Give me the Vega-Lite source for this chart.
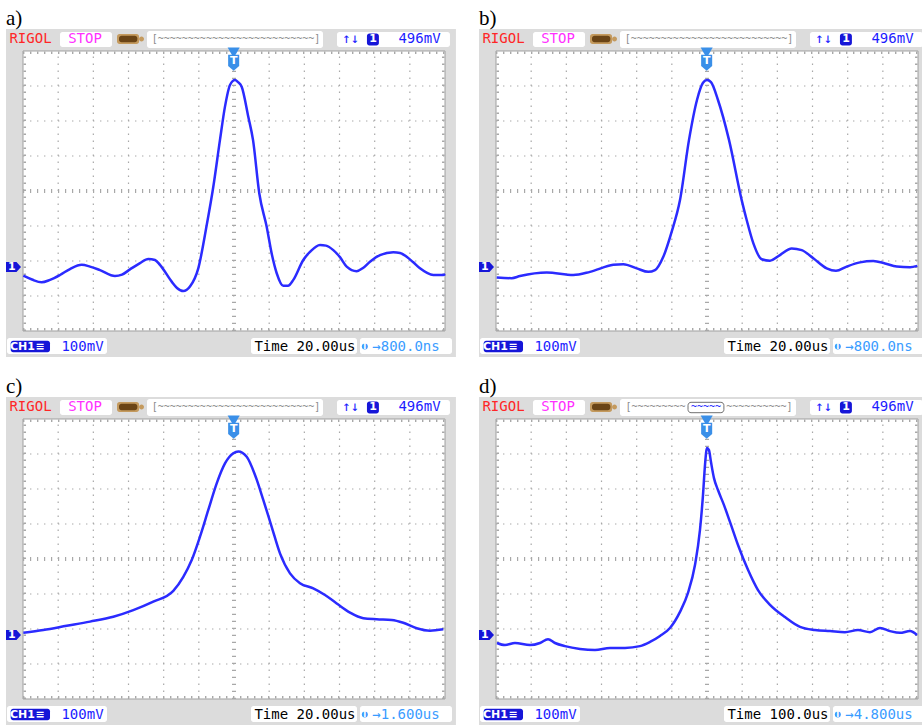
{
"$schema": "https://vega.github.io/schema/vega-lite/v6.json",
"padding": 0,
"background": "white",
"config": {"view": {"stroke": null}},
"datasets": {
"rects": [
{"x0":1.052,"x1":2.531,"y0":8.114,"y1":8.543,"k":"w"},
{"x0":3.526,"x1":8.53,"y0":8.086,"y1":8.571,"k":"w"},
{"x0":8.928,"x1":12.14,"y0":8.114,"y1":8.543,"k":"w"},
{"x0":-0.455,"x1":2.388,"y0":-0.657,"y1":-0.2,"k":"w"},
{"x0":6.483,"x1":9.497,"y0":-0.657,"y1":-0.2,"k":"w"},
{"x0":9.582,"x1":12.198,"y0":-0.657,"y1":-0.2,"k":"w"},
{"x0":2.673,"x1":3.3,"y0":8.2,"y1":8.486,"k":"tan"},
{"x0":2.73,"x1":3.25,"y0":8.25,"y1":8.436,"k":"bat"},
{"x0":3.3,"x1":3.44,"y0":8.271,"y1":8.414,"k":"tan"},
{"x0":9.78,"x1":10.12,"y0":8.157,"y1":8.5,"k":"blu"},
{"x0":-0.35,"x1":0.768,"y0":-0.609,"y1":-0.277,"k":"blu"}
],
"gx": [{"v":1},{"v":2},{"v":3},{"v":4},{"v":5},{"v":7},{"v":8},{"v":9},{"v":10},{"v":11}],
"gy": [{"v":1},{"v":2},{"v":3},{"v":5},{"v":6},{"v":7}],
"tk": [{"x0":6,"x1":6,"y0":0,"y1":8},{"x0":0,"x1":12,"y0":4,"y1":4}],
"ek": [{"x0":0.05,"x1":0.05,"y0":0,"y1":8},{"x0":11.95,"x1":11.95,"y0":0,"y1":8},{"x0":0,"x1":12,"y0":7.95,"y1":7.95},{"x0":0,"x1":12,"y0":0.05,"y1":0.05}],
"mk": [{"x":5.99,"y":7.661,"m":"trig"},{"x":5.99,"y":7.95,"m":"tri"},{"x":9.72,"y":-0.443,"m":"tc"}],
"mt": [{"x":5.99,"y":7.70,"t":"T"},{"x":-0.32,"y":1.83,"t":"1"},{"x":-0.014,"y":-0.443,"t":"CH1"},{"x":0.483,"y":-0.443,"t":"≡"},{"x":9.952,"y":8.33,"t":"1"}],
"hd": [
{"x":0.213,"y":8.33,"t":"RIGOL","k":"red"},
{"x":1.763,"y":8.33,"t":"STOP","k":"mag"},
{"x":9.312,"y":8.33,"t":"↑↓","k":"blue"},
{"x":11.274,"y":8.33,"t":"496mV","k":"blue"},
{"x":1.692,"y":-0.443,"t":"100mV","k":"blue"}
],
"fa": [{"x":8.018,"y":-0.443,"t":"Time 20.00us","k":"black"},{"x":10.89,"y":-0.443,"t":"→800.0ns","k":"lblue"}],
"fc": [{"x":8.018,"y":-0.443,"t":"Time 20.00us","k":"black"},{"x":10.89,"y":-0.443,"t":"→1.600us","k":"lblue"}],
"fd": [{"x":8.018,"y":-0.443,"t":"Time 100.0us","k":"black"},{"x":10.89,"y":-0.443,"t":"→4.800us","k":"lblue"}],
"wa": [{"x":0.01,"y":1.58},{"x":0.256,"y":1.47},{"x":0.53,"y":1.39},{"x":0.768,"y":1.46},{"x":1.052,"y":1.6},{"x":1.336,"y":1.77},{"x":1.669,"y":1.89},{"x":1.905,"y":1.84},{"x":2.189,"y":1.74},{"x":2.616,"y":1.57},{"x":2.815,"y":1.61},{"x":3.042,"y":1.76},{"x":3.327,"y":1.94},{"x":3.563,"y":2.06},{"x":3.753,"y":2.03},{"x":3.895,"y":1.89},{"x":4.228,"y":1.41},{"x":4.379,"y":1.23},{"x":4.558,"y":1.14},{"x":4.748,"y":1.27},{"x":4.984,"y":1.79},{"x":5.223,"y":3.02},{"x":5.411,"y":4.12},{"x":5.601,"y":5.46},{"x":5.743,"y":6.41},{"x":5.886,"y":7.03},{"x":6.028,"y":7.17},{"x":6.113,"y":7.11},{"x":6.218,"y":6.98},{"x":6.406,"y":6.12},{"x":6.54,"y":5.46},{"x":6.719,"y":3.93},{"x":6.929,"y":2.98},{"x":7.08,"y":2.17},{"x":7.214,"y":1.65},{"x":7.401,"y":1.29},{"x":7.535,"y":1.29},{"x":7.686,"y":1.46},{"x":7.97,"y":2.03},{"x":8.16,"y":2.26},{"x":8.445,"y":2.46},{"x":8.615,"y":2.44},{"x":8.823,"y":2.31},{"x":9.013,"y":2.11},{"x":9.204,"y":1.84},{"x":9.488,"y":1.71},{"x":9.667,"y":1.8},{"x":9.866,"y":1.98},{"x":10.151,"y":2.17},{"x":10.529,"y":2.25},{"x":10.72,"y":2.23},{"x":10.91,"y":2.12},{"x":11.089,"y":1.97},{"x":11.288,"y":1.79},{"x":11.666,"y":1.6},{"x":11.95,"y":1.6},{"x":12.0,"y":1.63}],
"wb": [{"x":0.02,"y":1.53},{"x":0.446,"y":1.51},{"x":0.682,"y":1.57},{"x":1.442,"y":1.67},{"x":2.198,"y":1.6},{"x":2.673,"y":1.69},{"x":3.335,"y":1.89},{"x":3.62,"y":1.91},{"x":4.0,"y":1.79},{"x":4.33,"y":1.69},{"x":4.521,"y":1.74},{"x":4.757,"y":2.12},{"x":4.996,"y":2.84},{"x":5.232,"y":3.74},{"x":5.488,"y":5.46},{"x":5.715,"y":6.6},{"x":5.886,"y":7.09},{"x":6.0,"y":7.17},{"x":6.113,"y":7.11},{"x":6.312,"y":6.6},{"x":6.625,"y":5.46},{"x":6.986,"y":3.74},{"x":7.128,"y":3.17},{"x":7.316,"y":2.51},{"x":7.555,"y":2.05},{"x":7.791,"y":2.01},{"x":8.075,"y":2.17},{"x":8.408,"y":2.36},{"x":8.692,"y":2.31},{"x":9.022,"y":2.08},{"x":9.403,"y":1.79},{"x":9.667,"y":1.72},{"x":9.971,"y":1.84},{"x":10.35,"y":1.96},{"x":10.728,"y":2.0},{"x":11.061,"y":1.93},{"x":11.394,"y":1.84},{"x":11.772,"y":1.82},{"x":11.98,"y":1.86}],
"wc": [{"x":0.01,"y":1.89},{"x":0.577,"y":1.97},{"x":1.243,"y":2.09},{"x":1.905,"y":2.21},{"x":2.568,"y":2.35},{"x":3.136,"y":2.54},{"x":3.705,"y":2.78},{"x":4.274,"y":3.09},{"x":4.558,"y":3.49},{"x":4.797,"y":3.97},{"x":5.033,"y":4.64},{"x":5.269,"y":5.4},{"x":5.508,"y":6.16},{"x":5.743,"y":6.73},{"x":5.98,"y":7.02},{"x":6.122,"y":7.07},{"x":6.361,"y":6.92},{"x":6.597,"y":6.4},{"x":6.832,"y":5.69},{"x":7.071,"y":4.92},{"x":7.307,"y":4.16},{"x":7.592,"y":3.59},{"x":7.876,"y":3.31},{"x":8.254,"y":3.16},{"x":8.587,"y":2.97},{"x":8.92,"y":2.73},{"x":9.298,"y":2.47},{"x":9.676,"y":2.31},{"x":10.057,"y":2.28},{"x":10.483,"y":2.26},{"x":10.813,"y":2.18},{"x":11.194,"y":2.02},{"x":11.572,"y":1.95},{"x":11.95,"y":1.99}],
"wd": [{"x":0.028,"y":1.6},{"x":0.256,"y":1.54},{"x":0.54,"y":1.6},{"x":0.967,"y":1.54},{"x":1.251,"y":1.6},{"x":1.479,"y":1.71},{"x":1.678,"y":1.6},{"x":1.962,"y":1.51},{"x":2.388,"y":1.43},{"x":2.815,"y":1.4},{"x":3.241,"y":1.46},{"x":3.668,"y":1.46},{"x":4.094,"y":1.51},{"x":4.379,"y":1.63},{"x":4.663,"y":1.8},{"x":4.947,"y":2.03},{"x":5.232,"y":2.49},{"x":5.459,"y":3.03},{"x":5.658,"y":3.83},{"x":5.8,"y":4.83},{"x":5.886,"y":5.83},{"x":5.943,"y":6.69},{"x":6.0,"y":7.17},{"x":6.056,"y":7.11},{"x":6.113,"y":6.77},{"x":6.198,"y":6.31},{"x":6.312,"y":5.97},{"x":6.483,"y":5.54},{"x":6.653,"y":5.06},{"x":6.881,"y":4.4},{"x":7.165,"y":3.69},{"x":7.45,"y":3.11},{"x":7.791,"y":2.69},{"x":8.217,"y":2.34},{"x":8.644,"y":2.06},{"x":9.07,"y":1.97},{"x":9.497,"y":1.94},{"x":9.923,"y":1.91},{"x":10.293,"y":1.97},{"x":10.634,"y":1.91},{"x":10.918,"y":2.03},{"x":11.203,"y":1.94},{"x":11.487,"y":1.89},{"x":11.772,"y":1.94},{"x":11.97,"y":1.83}]
},
"spacing": 11,
"vconcat": [
{"spacing": 17, "hconcat": [
{"width": 456, "height": 357,
"resolve": {"scale": {"color": "independent", "fill": "independent", "shape": "independent", "size": "independent"}},
"layer": [
{"data": {"values": [{}]}, "mark": {"type": "rect", "fill": "#dcdcdc", "clip": true},
 "encoding": {"x": {"datum": -0.483, "type": "quantitative", "scale": {"domain": [-0.654, 12.312], "nice": false, "zero": false}, "axis": null}, "x2": {"datum": 12.31}, "y": {"datum": -0.743, "type": "quantitative", "scale": {"domain": [-0.743, 9.457], "nice": false, "zero": false}, "axis": null}, "y2": {"datum": 8.629}}},
{"data": {"name": "rects"}, "mark": {"type": "rect", "clip": true, "cornerRadius": 2.5},
 "encoding": {"x": {"field": "x0", "type": "quantitative", "scale": {"domain": [-0.654, 12.312], "nice": false, "zero": false}, "axis": null}, "x2": {"field": "x1"}, "y": {"field": "y0", "type": "quantitative", "scale": {"domain": [-0.743, 9.457], "nice": false, "zero": false}, "axis": null}, "y2": {"field": "y1"}, "fill": {"field": "k", "type": "nominal", "scale": {"domain": ["w", "tan", "bat", "blu"], "range": ["#ffffff", "#c49a5e", "#6a4416", "#1616d8"]}, "legend": null}}},
{"data": {"values": [{}]}, "mark": {"type": "rect", "fill": "#ffffff", "stroke": "#a0a0a0", "strokeWidth": 1},
 "encoding": {"x": {"datum": 0, "type": "quantitative", "scale": {"domain": [-0.654, 12.312], "nice": false, "zero": false}, "axis": null}, "x2": {"datum": 12}, "y": {"datum": 0, "type": "quantitative", "scale": {"domain": [-0.743, 9.457], "nice": false, "zero": false}, "axis": null}, "y2": {"datum": 8}}},
{"data": {"name": "gx"}, "mark": {"type": "rule", "color": "#a8a8a8", "strokeDash": [1.4, 5.6], "strokeWidth": 1.2},
 "encoding": {"x": {"field": "v", "type": "quantitative", "scale": {"domain": [-0.654, 12.312], "nice": false, "zero": false}, "axis": null}, "y": {"datum": 0, "type": "quantitative", "scale": {"domain": [-0.743, 9.457], "nice": false, "zero": false}, "axis": null}, "y2": {"datum": 8}}},
{"data": {"name": "gy"}, "mark": {"type": "rule", "color": "#a8a8a8", "strokeDash": [1.4, 5.6], "strokeWidth": 1.2},
 "encoding": {"y": {"field": "v", "type": "quantitative", "scale": {"domain": [-0.743, 9.457], "nice": false, "zero": false}, "axis": null}, "x": {"datum": 0, "type": "quantitative", "scale": {"domain": [-0.654, 12.312], "nice": false, "zero": false}, "axis": null}, "x2": {"datum": 12}}},
{"data": {"name": "tk"}, "mark": {"type": "rule", "color": "#a8a8a8", "strokeDash": [1.2, 5.8], "strokeWidth": 4},
 "encoding": {"x": {"field": "x0", "type": "quantitative", "scale": {"domain": [-0.654, 12.312], "nice": false, "zero": false}, "axis": null}, "x2": {"field": "x1"}, "y": {"field": "y0", "type": "quantitative", "scale": {"domain": [-0.743, 9.457], "nice": false, "zero": false}, "axis": null}, "y2": {"field": "y1"}}},
{"data": {"name": "ek"}, "mark": {"type": "rule", "color": "#a8a8a8", "strokeDash": [1.4, 5.6], "strokeWidth": 2.5},
 "encoding": {"x": {"field": "x0", "type": "quantitative", "scale": {"domain": [-0.654, 12.312], "nice": false, "zero": false}, "axis": null}, "x2": {"field": "x1"}, "y": {"field": "y0", "type": "quantitative", "scale": {"domain": [-0.743, 9.457], "nice": false, "zero": false}, "axis": null}, "y2": {"field": "y1"}}},
{"data": {"name": "wa"}, "mark": {"type": "line", "color": "#2b2bff", "strokeWidth": 2.5, "interpolate": "monotone", "clip": true},
 "encoding": {"x": {"field": "x", "type": "quantitative", "scale": {"domain": [-0.654, 12.312], "nice": false, "zero": false}, "axis": null}, "y": {"field": "y", "type": "quantitative", "scale": {"domain": [-0.743, 9.457], "nice": false, "zero": false}, "axis": null}}},
{"data": {"values": [{}]}, "mark": {"type": "point", "filled": true, "opacity": 1, "shape": "M-1,-0.667L0.4,-0.667L1,0L0.4,0.667L-1,0.667Z", "size": 225, "color": "#1616d8"},
 "encoding": {"x": {"datum": -0.27, "type": "quantitative", "scale": {"domain": [-0.654, 12.312], "nice": false, "zero": false}, "axis": null}, "y": {"datum": 1.83, "type": "quantitative", "scale": {"domain": [-0.743, 9.457], "nice": false, "zero": false}, "axis": null}}},
{"data": {"name": "mk"}, "mark": {"type": "point", "filled": true, "opacity": 1},
 "encoding": {"x": {"field": "x", "type": "quantitative", "scale": {"domain": [-0.654, 12.312], "nice": false, "zero": false}, "axis": null}, "y": {"field": "y", "type": "quantitative", "scale": {"domain": [-0.743, 9.457], "nice": false, "zero": false}, "axis": null},
  "shape": {"field": "m", "type": "nominal", "scale": {"domain": ["trig", "tri", "tc"], "range": ["M-0.69,-1L0.69,-1L0.69,0.4L0,1L-0.69,0.4Z", "triangle-down", "circle"]}, "legend": null},
  "size": {"field": "m", "type": "ordinal", "scale": {"domain": ["trig", "tri", "tc"], "range": [256, 36, 110]}, "legend": null},
  "color": {"field": "m", "type": "nominal", "scale": {"domain": ["trig", "tri", "tc"], "range": ["#3a8fe8", "#3a8fe8", "#3a9cff"]}, "legend": null}}},
{"data": {"name": "mt"}, "mark": {"type": "text", "font": "DejaVu Sans", "fontWeight": "bold", "fontSize": 11, "color": "#ffffff", "baseline": "middle", "align": "center"},
 "encoding": {"x": {"field": "x", "type": "quantitative", "scale": {"domain": [-0.654, 12.312], "nice": false, "zero": false}, "axis": null}, "y": {"field": "y", "type": "quantitative", "scale": {"domain": [-0.743, 9.457], "nice": false, "zero": false}, "axis": null}, "text": {"field": "t"}}},
{"data": {"values": [{}]}, "mark": {"type": "text", "font": "DejaVu Sans", "fontWeight": "bold", "fontSize": 8, "color": "#ffffff", "baseline": "middle", "align": "center"},
 "encoding": {"x": {"datum": 9.72, "type": "quantitative", "scale": {"domain": [-0.654, 12.312], "nice": false, "zero": false}, "axis": null}, "y": {"datum": -0.443, "type": "quantitative", "scale": {"domain": [-0.743, 9.457], "nice": false, "zero": false}, "axis": null}, "text": {"value": "T"}}},
{"data": {"values": [{}]}, "mark": {"type": "text", "font": "DejaVu Sans Mono", "fontSize": 10, "color": "#8c8c8c", "baseline": "middle", "align": "center"},
 "encoding": {"x": {"datum": 6.056, "type": "quantitative", "scale": {"domain": [-0.654, 12.312], "nice": false, "zero": false}, "axis": null}, "y": {"datum": 8.33, "type": "quantitative", "scale": {"domain": [-0.743, 9.457], "nice": false, "zero": false}, "axis": null}, "text": {"value": "[~~~~~~~~~~~~~~~~~~~~~~~~~~]"}}},
{"data": {"name": "hd"}, "mark": {"type": "text", "font": "DejaVu Sans Mono", "fontSize": 14, "baseline": "middle", "align": "center"},
 "encoding": {"x": {"field": "x", "type": "quantitative", "scale": {"domain": [-0.654, 12.312], "nice": false, "zero": false}, "axis": null}, "y": {"field": "y", "type": "quantitative", "scale": {"domain": [-0.743, 9.457], "nice": false, "zero": false}, "axis": null}, "text": {"field": "t"}, "color": {"field": "k", "type": "nominal", "scale": {"domain": ["red", "mag", "blue", "black", "lblue"], "range": ["#ff2626", "#ff30ff", "#1c1cff", "#000000", "#3a9cff"]}, "legend": null}}},
{"data": {"name": "fa"}, "mark": {"type": "text", "font": "DejaVu Sans Mono", "fontSize": 14, "baseline": "middle", "align": "center"},
 "encoding": {"x": {"field": "x", "type": "quantitative", "scale": {"domain": [-0.654, 12.312], "nice": false, "zero": false}, "axis": null}, "y": {"field": "y", "type": "quantitative", "scale": {"domain": [-0.743, 9.457], "nice": false, "zero": false}, "axis": null}, "text": {"field": "t"}, "color": {"field": "k", "type": "nominal", "scale": {"domain": ["red", "mag", "blue", "black", "lblue"], "range": ["#ff2626", "#ff30ff", "#1c1cff", "#000000", "#3a9cff"]}, "legend": null}}},
{"data": {"values": [{}]}, "mark": {"type": "text", "font": "Liberation Serif", "fontSize": 21, "align": "left", "baseline": "alphabetic", "color": "#000000"},
 "encoding": {"x": {"datum": -0.483, "type": "quantitative", "scale": {"domain": [-0.654, 12.312], "nice": false, "zero": false}, "axis": null}, "y": {"datum": 8.743, "type": "quantitative", "scale": {"domain": [-0.743, 9.457], "nice": false, "zero": false}, "axis": null}, "text": {"value": "a)"}}}
]},
{"width": 449, "height": 357,
"resolve": {"scale": {"color": "independent", "fill": "independent", "shape": "independent", "size": "independent"}},
"layer": [
{"data": {"values": [{}]}, "mark": {"type": "rect", "fill": "#dcdcdc", "clip": true},
 "encoding": {"x": {"datum": -0.483, "type": "quantitative", "scale": {"domain": [-0.654, 12.113], "nice": false, "zero": false}, "axis": null}, "x2": {"datum": 12.31}, "y": {"datum": -0.743, "type": "quantitative", "scale": {"domain": [-0.743, 9.457], "nice": false, "zero": false}, "axis": null}, "y2": {"datum": 8.629}}},
{"data": {"name": "rects"}, "mark": {"type": "rect", "clip": true, "cornerRadius": 2.5},
 "encoding": {"x": {"field": "x0", "type": "quantitative", "scale": {"domain": [-0.654, 12.113], "nice": false, "zero": false}, "axis": null}, "x2": {"field": "x1"}, "y": {"field": "y0", "type": "quantitative", "scale": {"domain": [-0.743, 9.457], "nice": false, "zero": false}, "axis": null}, "y2": {"field": "y1"}, "fill": {"field": "k", "type": "nominal", "scale": {"domain": ["w", "tan", "bat", "blu"], "range": ["#ffffff", "#c49a5e", "#6a4416", "#1616d8"]}, "legend": null}}},
{"data": {"values": [{}]}, "mark": {"type": "rect", "fill": "#ffffff", "stroke": "#a0a0a0", "strokeWidth": 1},
 "encoding": {"x": {"datum": 0, "type": "quantitative", "scale": {"domain": [-0.654, 12.113], "nice": false, "zero": false}, "axis": null}, "x2": {"datum": 12}, "y": {"datum": 0, "type": "quantitative", "scale": {"domain": [-0.743, 9.457], "nice": false, "zero": false}, "axis": null}, "y2": {"datum": 8}}},
{"data": {"name": "gx"}, "mark": {"type": "rule", "color": "#a8a8a8", "strokeDash": [1.4, 5.6], "strokeWidth": 1.2},
 "encoding": {"x": {"field": "v", "type": "quantitative", "scale": {"domain": [-0.654, 12.113], "nice": false, "zero": false}, "axis": null}, "y": {"datum": 0, "type": "quantitative", "scale": {"domain": [-0.743, 9.457], "nice": false, "zero": false}, "axis": null}, "y2": {"datum": 8}}},
{"data": {"name": "gy"}, "mark": {"type": "rule", "color": "#a8a8a8", "strokeDash": [1.4, 5.6], "strokeWidth": 1.2},
 "encoding": {"y": {"field": "v", "type": "quantitative", "scale": {"domain": [-0.743, 9.457], "nice": false, "zero": false}, "axis": null}, "x": {"datum": 0, "type": "quantitative", "scale": {"domain": [-0.654, 12.113], "nice": false, "zero": false}, "axis": null}, "x2": {"datum": 12}}},
{"data": {"name": "tk"}, "mark": {"type": "rule", "color": "#a8a8a8", "strokeDash": [1.2, 5.8], "strokeWidth": 4},
 "encoding": {"x": {"field": "x0", "type": "quantitative", "scale": {"domain": [-0.654, 12.113], "nice": false, "zero": false}, "axis": null}, "x2": {"field": "x1"}, "y": {"field": "y0", "type": "quantitative", "scale": {"domain": [-0.743, 9.457], "nice": false, "zero": false}, "axis": null}, "y2": {"field": "y1"}}},
{"data": {"name": "ek"}, "mark": {"type": "rule", "color": "#a8a8a8", "strokeDash": [1.4, 5.6], "strokeWidth": 2.5},
 "encoding": {"x": {"field": "x0", "type": "quantitative", "scale": {"domain": [-0.654, 12.113], "nice": false, "zero": false}, "axis": null}, "x2": {"field": "x1"}, "y": {"field": "y0", "type": "quantitative", "scale": {"domain": [-0.743, 9.457], "nice": false, "zero": false}, "axis": null}, "y2": {"field": "y1"}}},
{"data": {"name": "wb"}, "mark": {"type": "line", "color": "#2b2bff", "strokeWidth": 2.5, "interpolate": "monotone", "clip": true},
 "encoding": {"x": {"field": "x", "type": "quantitative", "scale": {"domain": [-0.654, 12.113], "nice": false, "zero": false}, "axis": null}, "y": {"field": "y", "type": "quantitative", "scale": {"domain": [-0.743, 9.457], "nice": false, "zero": false}, "axis": null}}},
{"data": {"values": [{}]}, "mark": {"type": "point", "filled": true, "opacity": 1, "shape": "M-1,-0.667L0.4,-0.667L1,0L0.4,0.667L-1,0.667Z", "size": 225, "color": "#1616d8"},
 "encoding": {"x": {"datum": -0.27, "type": "quantitative", "scale": {"domain": [-0.654, 12.113], "nice": false, "zero": false}, "axis": null}, "y": {"datum": 1.83, "type": "quantitative", "scale": {"domain": [-0.743, 9.457], "nice": false, "zero": false}, "axis": null}}},
{"data": {"name": "mk"}, "mark": {"type": "point", "filled": true, "opacity": 1},
 "encoding": {"x": {"field": "x", "type": "quantitative", "scale": {"domain": [-0.654, 12.113], "nice": false, "zero": false}, "axis": null}, "y": {"field": "y", "type": "quantitative", "scale": {"domain": [-0.743, 9.457], "nice": false, "zero": false}, "axis": null},
  "shape": {"field": "m", "type": "nominal", "scale": {"domain": ["trig", "tri", "tc"], "range": ["M-0.69,-1L0.69,-1L0.69,0.4L0,1L-0.69,0.4Z", "triangle-down", "circle"]}, "legend": null},
  "size": {"field": "m", "type": "ordinal", "scale": {"domain": ["trig", "tri", "tc"], "range": [256, 36, 110]}, "legend": null},
  "color": {"field": "m", "type": "nominal", "scale": {"domain": ["trig", "tri", "tc"], "range": ["#3a8fe8", "#3a8fe8", "#3a9cff"]}, "legend": null}}},
{"data": {"name": "mt"}, "mark": {"type": "text", "font": "DejaVu Sans", "fontWeight": "bold", "fontSize": 11, "color": "#ffffff", "baseline": "middle", "align": "center"},
 "encoding": {"x": {"field": "x", "type": "quantitative", "scale": {"domain": [-0.654, 12.113], "nice": false, "zero": false}, "axis": null}, "y": {"field": "y", "type": "quantitative", "scale": {"domain": [-0.743, 9.457], "nice": false, "zero": false}, "axis": null}, "text": {"field": "t"}}},
{"data": {"values": [{}]}, "mark": {"type": "text", "font": "DejaVu Sans", "fontWeight": "bold", "fontSize": 8, "color": "#ffffff", "baseline": "middle", "align": "center"},
 "encoding": {"x": {"datum": 9.72, "type": "quantitative", "scale": {"domain": [-0.654, 12.113], "nice": false, "zero": false}, "axis": null}, "y": {"datum": -0.443, "type": "quantitative", "scale": {"domain": [-0.743, 9.457], "nice": false, "zero": false}, "axis": null}, "text": {"value": "T"}}},
{"data": {"values": [{}]}, "mark": {"type": "text", "font": "DejaVu Sans Mono", "fontSize": 10, "color": "#8c8c8c", "baseline": "middle", "align": "center"},
 "encoding": {"x": {"datum": 6.056, "type": "quantitative", "scale": {"domain": [-0.654, 12.113], "nice": false, "zero": false}, "axis": null}, "y": {"datum": 8.33, "type": "quantitative", "scale": {"domain": [-0.743, 9.457], "nice": false, "zero": false}, "axis": null}, "text": {"value": "[~~~~~~~~~~~~~~~~~~~~~~~~~~]"}}},
{"data": {"name": "hd"}, "mark": {"type": "text", "font": "DejaVu Sans Mono", "fontSize": 14, "baseline": "middle", "align": "center"},
 "encoding": {"x": {"field": "x", "type": "quantitative", "scale": {"domain": [-0.654, 12.113], "nice": false, "zero": false}, "axis": null}, "y": {"field": "y", "type": "quantitative", "scale": {"domain": [-0.743, 9.457], "nice": false, "zero": false}, "axis": null}, "text": {"field": "t"}, "color": {"field": "k", "type": "nominal", "scale": {"domain": ["red", "mag", "blue", "black", "lblue"], "range": ["#ff2626", "#ff30ff", "#1c1cff", "#000000", "#3a9cff"]}, "legend": null}}},
{"data": {"name": "fa"}, "mark": {"type": "text", "font": "DejaVu Sans Mono", "fontSize": 14, "baseline": "middle", "align": "center"},
 "encoding": {"x": {"field": "x", "type": "quantitative", "scale": {"domain": [-0.654, 12.113], "nice": false, "zero": false}, "axis": null}, "y": {"field": "y", "type": "quantitative", "scale": {"domain": [-0.743, 9.457], "nice": false, "zero": false}, "axis": null}, "text": {"field": "t"}, "color": {"field": "k", "type": "nominal", "scale": {"domain": ["red", "mag", "blue", "black", "lblue"], "range": ["#ff2626", "#ff30ff", "#1c1cff", "#000000", "#3a9cff"]}, "legend": null}}},
{"data": {"values": [{}]}, "mark": {"type": "text", "font": "Liberation Serif", "fontSize": 21, "align": "left", "baseline": "alphabetic", "color": "#000000"},
 "encoding": {"x": {"datum": -0.483, "type": "quantitative", "scale": {"domain": [-0.654, 12.113], "nice": false, "zero": false}, "axis": null}, "y": {"datum": 8.743, "type": "quantitative", "scale": {"domain": [-0.743, 9.457], "nice": false, "zero": false}, "axis": null}, "text": {"value": "b)"}}}
]}
]},
{"spacing": 17, "hconcat": [
{"width": 456, "height": 357,
"resolve": {"scale": {"color": "independent", "fill": "independent", "shape": "independent", "size": "independent"}},
"layer": [
{"data": {"values": [{}]}, "mark": {"type": "rect", "fill": "#dcdcdc", "clip": true},
 "encoding": {"x": {"datum": -0.483, "type": "quantitative", "scale": {"domain": [-0.654, 12.312], "nice": false, "zero": false}, "axis": null}, "x2": {"datum": 12.31}, "y": {"datum": -0.743, "type": "quantitative", "scale": {"domain": [-0.743, 9.457], "nice": false, "zero": false}, "axis": null}, "y2": {"datum": 8.629}}},
{"data": {"name": "rects"}, "mark": {"type": "rect", "clip": true, "cornerRadius": 2.5},
 "encoding": {"x": {"field": "x0", "type": "quantitative", "scale": {"domain": [-0.654, 12.312], "nice": false, "zero": false}, "axis": null}, "x2": {"field": "x1"}, "y": {"field": "y0", "type": "quantitative", "scale": {"domain": [-0.743, 9.457], "nice": false, "zero": false}, "axis": null}, "y2": {"field": "y1"}, "fill": {"field": "k", "type": "nominal", "scale": {"domain": ["w", "tan", "bat", "blu"], "range": ["#ffffff", "#c49a5e", "#6a4416", "#1616d8"]}, "legend": null}}},
{"data": {"values": [{}]}, "mark": {"type": "rect", "fill": "#ffffff", "stroke": "#a0a0a0", "strokeWidth": 1},
 "encoding": {"x": {"datum": 0, "type": "quantitative", "scale": {"domain": [-0.654, 12.312], "nice": false, "zero": false}, "axis": null}, "x2": {"datum": 12}, "y": {"datum": 0, "type": "quantitative", "scale": {"domain": [-0.743, 9.457], "nice": false, "zero": false}, "axis": null}, "y2": {"datum": 8}}},
{"data": {"name": "gx"}, "mark": {"type": "rule", "color": "#a8a8a8", "strokeDash": [1.4, 5.6], "strokeWidth": 1.2},
 "encoding": {"x": {"field": "v", "type": "quantitative", "scale": {"domain": [-0.654, 12.312], "nice": false, "zero": false}, "axis": null}, "y": {"datum": 0, "type": "quantitative", "scale": {"domain": [-0.743, 9.457], "nice": false, "zero": false}, "axis": null}, "y2": {"datum": 8}}},
{"data": {"name": "gy"}, "mark": {"type": "rule", "color": "#a8a8a8", "strokeDash": [1.4, 5.6], "strokeWidth": 1.2},
 "encoding": {"y": {"field": "v", "type": "quantitative", "scale": {"domain": [-0.743, 9.457], "nice": false, "zero": false}, "axis": null}, "x": {"datum": 0, "type": "quantitative", "scale": {"domain": [-0.654, 12.312], "nice": false, "zero": false}, "axis": null}, "x2": {"datum": 12}}},
{"data": {"name": "tk"}, "mark": {"type": "rule", "color": "#a8a8a8", "strokeDash": [1.2, 5.8], "strokeWidth": 4},
 "encoding": {"x": {"field": "x0", "type": "quantitative", "scale": {"domain": [-0.654, 12.312], "nice": false, "zero": false}, "axis": null}, "x2": {"field": "x1"}, "y": {"field": "y0", "type": "quantitative", "scale": {"domain": [-0.743, 9.457], "nice": false, "zero": false}, "axis": null}, "y2": {"field": "y1"}}},
{"data": {"name": "ek"}, "mark": {"type": "rule", "color": "#a8a8a8", "strokeDash": [1.4, 5.6], "strokeWidth": 2.5},
 "encoding": {"x": {"field": "x0", "type": "quantitative", "scale": {"domain": [-0.654, 12.312], "nice": false, "zero": false}, "axis": null}, "x2": {"field": "x1"}, "y": {"field": "y0", "type": "quantitative", "scale": {"domain": [-0.743, 9.457], "nice": false, "zero": false}, "axis": null}, "y2": {"field": "y1"}}},
{"data": {"name": "wc"}, "mark": {"type": "line", "color": "#2b2bff", "strokeWidth": 2.5, "interpolate": "monotone", "clip": true},
 "encoding": {"x": {"field": "x", "type": "quantitative", "scale": {"domain": [-0.654, 12.312], "nice": false, "zero": false}, "axis": null}, "y": {"field": "y", "type": "quantitative", "scale": {"domain": [-0.743, 9.457], "nice": false, "zero": false}, "axis": null}}},
{"data": {"values": [{}]}, "mark": {"type": "point", "filled": true, "opacity": 1, "shape": "M-1,-0.667L0.4,-0.667L1,0L0.4,0.667L-1,0.667Z", "size": 225, "color": "#1616d8"},
 "encoding": {"x": {"datum": -0.27, "type": "quantitative", "scale": {"domain": [-0.654, 12.312], "nice": false, "zero": false}, "axis": null}, "y": {"datum": 1.83, "type": "quantitative", "scale": {"domain": [-0.743, 9.457], "nice": false, "zero": false}, "axis": null}}},
{"data": {"name": "mk"}, "mark": {"type": "point", "filled": true, "opacity": 1},
 "encoding": {"x": {"field": "x", "type": "quantitative", "scale": {"domain": [-0.654, 12.312], "nice": false, "zero": false}, "axis": null}, "y": {"field": "y", "type": "quantitative", "scale": {"domain": [-0.743, 9.457], "nice": false, "zero": false}, "axis": null},
  "shape": {"field": "m", "type": "nominal", "scale": {"domain": ["trig", "tri", "tc"], "range": ["M-0.69,-1L0.69,-1L0.69,0.4L0,1L-0.69,0.4Z", "triangle-down", "circle"]}, "legend": null},
  "size": {"field": "m", "type": "ordinal", "scale": {"domain": ["trig", "tri", "tc"], "range": [256, 36, 110]}, "legend": null},
  "color": {"field": "m", "type": "nominal", "scale": {"domain": ["trig", "tri", "tc"], "range": ["#3a8fe8", "#3a8fe8", "#3a9cff"]}, "legend": null}}},
{"data": {"name": "mt"}, "mark": {"type": "text", "font": "DejaVu Sans", "fontWeight": "bold", "fontSize": 11, "color": "#ffffff", "baseline": "middle", "align": "center"},
 "encoding": {"x": {"field": "x", "type": "quantitative", "scale": {"domain": [-0.654, 12.312], "nice": false, "zero": false}, "axis": null}, "y": {"field": "y", "type": "quantitative", "scale": {"domain": [-0.743, 9.457], "nice": false, "zero": false}, "axis": null}, "text": {"field": "t"}}},
{"data": {"values": [{}]}, "mark": {"type": "text", "font": "DejaVu Sans", "fontWeight": "bold", "fontSize": 8, "color": "#ffffff", "baseline": "middle", "align": "center"},
 "encoding": {"x": {"datum": 9.72, "type": "quantitative", "scale": {"domain": [-0.654, 12.312], "nice": false, "zero": false}, "axis": null}, "y": {"datum": -0.443, "type": "quantitative", "scale": {"domain": [-0.743, 9.457], "nice": false, "zero": false}, "axis": null}, "text": {"value": "T"}}},
{"data": {"values": [{}]}, "mark": {"type": "text", "font": "DejaVu Sans Mono", "fontSize": 10, "color": "#8c8c8c", "baseline": "middle", "align": "center"},
 "encoding": {"x": {"datum": 6.056, "type": "quantitative", "scale": {"domain": [-0.654, 12.312], "nice": false, "zero": false}, "axis": null}, "y": {"datum": 8.33, "type": "quantitative", "scale": {"domain": [-0.743, 9.457], "nice": false, "zero": false}, "axis": null}, "text": {"value": "[~~~~~~~~~~~~~~~~~~~~~~~~~~]"}}},
{"data": {"name": "hd"}, "mark": {"type": "text", "font": "DejaVu Sans Mono", "fontSize": 14, "baseline": "middle", "align": "center"},
 "encoding": {"x": {"field": "x", "type": "quantitative", "scale": {"domain": [-0.654, 12.312], "nice": false, "zero": false}, "axis": null}, "y": {"field": "y", "type": "quantitative", "scale": {"domain": [-0.743, 9.457], "nice": false, "zero": false}, "axis": null}, "text": {"field": "t"}, "color": {"field": "k", "type": "nominal", "scale": {"domain": ["red", "mag", "blue", "black", "lblue"], "range": ["#ff2626", "#ff30ff", "#1c1cff", "#000000", "#3a9cff"]}, "legend": null}}},
{"data": {"name": "fc"}, "mark": {"type": "text", "font": "DejaVu Sans Mono", "fontSize": 14, "baseline": "middle", "align": "center"},
 "encoding": {"x": {"field": "x", "type": "quantitative", "scale": {"domain": [-0.654, 12.312], "nice": false, "zero": false}, "axis": null}, "y": {"field": "y", "type": "quantitative", "scale": {"domain": [-0.743, 9.457], "nice": false, "zero": false}, "axis": null}, "text": {"field": "t"}, "color": {"field": "k", "type": "nominal", "scale": {"domain": ["red", "mag", "blue", "black", "lblue"], "range": ["#ff2626", "#ff30ff", "#1c1cff", "#000000", "#3a9cff"]}, "legend": null}}},
{"data": {"values": [{}]}, "mark": {"type": "text", "font": "Liberation Serif", "fontSize": 21, "align": "left", "baseline": "alphabetic", "color": "#000000"},
 "encoding": {"x": {"datum": -0.483, "type": "quantitative", "scale": {"domain": [-0.654, 12.312], "nice": false, "zero": false}, "axis": null}, "y": {"datum": 8.743, "type": "quantitative", "scale": {"domain": [-0.743, 9.457], "nice": false, "zero": false}, "axis": null}, "text": {"value": "c)"}}}
]},
{"width": 449, "height": 357,
"resolve": {"scale": {"color": "independent", "fill": "independent", "shape": "independent", "size": "independent"}},
"layer": [
{"data": {"values": [{}]}, "mark": {"type": "rect", "fill": "#dcdcdc", "clip": true},
 "encoding": {"x": {"datum": -0.483, "type": "quantitative", "scale": {"domain": [-0.654, 12.113], "nice": false, "zero": false}, "axis": null}, "x2": {"datum": 12.31}, "y": {"datum": -0.743, "type": "quantitative", "scale": {"domain": [-0.743, 9.457], "nice": false, "zero": false}, "axis": null}, "y2": {"datum": 8.629}}},
{"data": {"name": "rects"}, "mark": {"type": "rect", "clip": true, "cornerRadius": 2.5},
 "encoding": {"x": {"field": "x0", "type": "quantitative", "scale": {"domain": [-0.654, 12.113], "nice": false, "zero": false}, "axis": null}, "x2": {"field": "x1"}, "y": {"field": "y0", "type": "quantitative", "scale": {"domain": [-0.743, 9.457], "nice": false, "zero": false}, "axis": null}, "y2": {"field": "y1"}, "fill": {"field": "k", "type": "nominal", "scale": {"domain": ["w", "tan", "bat", "blu"], "range": ["#ffffff", "#c49a5e", "#6a4416", "#1616d8"]}, "legend": null}}},
{"data": {"values": [{}]}, "mark": {"type": "rect", "fill": "#ffffff", "stroke": "#a0a0a0", "strokeWidth": 1},
 "encoding": {"x": {"datum": 0, "type": "quantitative", "scale": {"domain": [-0.654, 12.113], "nice": false, "zero": false}, "axis": null}, "x2": {"datum": 12}, "y": {"datum": 0, "type": "quantitative", "scale": {"domain": [-0.743, 9.457], "nice": false, "zero": false}, "axis": null}, "y2": {"datum": 8}}},
{"data": {"name": "gx"}, "mark": {"type": "rule", "color": "#a8a8a8", "strokeDash": [1.4, 5.6], "strokeWidth": 1.2},
 "encoding": {"x": {"field": "v", "type": "quantitative", "scale": {"domain": [-0.654, 12.113], "nice": false, "zero": false}, "axis": null}, "y": {"datum": 0, "type": "quantitative", "scale": {"domain": [-0.743, 9.457], "nice": false, "zero": false}, "axis": null}, "y2": {"datum": 8}}},
{"data": {"name": "gy"}, "mark": {"type": "rule", "color": "#a8a8a8", "strokeDash": [1.4, 5.6], "strokeWidth": 1.2},
 "encoding": {"y": {"field": "v", "type": "quantitative", "scale": {"domain": [-0.743, 9.457], "nice": false, "zero": false}, "axis": null}, "x": {"datum": 0, "type": "quantitative", "scale": {"domain": [-0.654, 12.113], "nice": false, "zero": false}, "axis": null}, "x2": {"datum": 12}}},
{"data": {"name": "tk"}, "mark": {"type": "rule", "color": "#a8a8a8", "strokeDash": [1.2, 5.8], "strokeWidth": 4},
 "encoding": {"x": {"field": "x0", "type": "quantitative", "scale": {"domain": [-0.654, 12.113], "nice": false, "zero": false}, "axis": null}, "x2": {"field": "x1"}, "y": {"field": "y0", "type": "quantitative", "scale": {"domain": [-0.743, 9.457], "nice": false, "zero": false}, "axis": null}, "y2": {"field": "y1"}}},
{"data": {"name": "ek"}, "mark": {"type": "rule", "color": "#a8a8a8", "strokeDash": [1.4, 5.6], "strokeWidth": 2.5},
 "encoding": {"x": {"field": "x0", "type": "quantitative", "scale": {"domain": [-0.654, 12.113], "nice": false, "zero": false}, "axis": null}, "x2": {"field": "x1"}, "y": {"field": "y0", "type": "quantitative", "scale": {"domain": [-0.743, 9.457], "nice": false, "zero": false}, "axis": null}, "y2": {"field": "y1"}}},
{"data": {"name": "wd"}, "mark": {"type": "line", "color": "#2b2bff", "strokeWidth": 2.5, "interpolate": "monotone", "clip": true},
 "encoding": {"x": {"field": "x", "type": "quantitative", "scale": {"domain": [-0.654, 12.113], "nice": false, "zero": false}, "axis": null}, "y": {"field": "y", "type": "quantitative", "scale": {"domain": [-0.743, 9.457], "nice": false, "zero": false}, "axis": null}}},
{"data": {"values": [{}]}, "mark": {"type": "point", "filled": true, "opacity": 1, "shape": "M-1,-0.667L0.4,-0.667L1,0L0.4,0.667L-1,0.667Z", "size": 225, "color": "#1616d8"},
 "encoding": {"x": {"datum": -0.27, "type": "quantitative", "scale": {"domain": [-0.654, 12.113], "nice": false, "zero": false}, "axis": null}, "y": {"datum": 1.83, "type": "quantitative", "scale": {"domain": [-0.743, 9.457], "nice": false, "zero": false}, "axis": null}}},
{"data": {"name": "mk"}, "mark": {"type": "point", "filled": true, "opacity": 1},
 "encoding": {"x": {"field": "x", "type": "quantitative", "scale": {"domain": [-0.654, 12.113], "nice": false, "zero": false}, "axis": null}, "y": {"field": "y", "type": "quantitative", "scale": {"domain": [-0.743, 9.457], "nice": false, "zero": false}, "axis": null},
  "shape": {"field": "m", "type": "nominal", "scale": {"domain": ["trig", "tri", "tc"], "range": ["M-0.69,-1L0.69,-1L0.69,0.4L0,1L-0.69,0.4Z", "triangle-down", "circle"]}, "legend": null},
  "size": {"field": "m", "type": "ordinal", "scale": {"domain": ["trig", "tri", "tc"], "range": [256, 36, 110]}, "legend": null},
  "color": {"field": "m", "type": "nominal", "scale": {"domain": ["trig", "tri", "tc"], "range": ["#3a8fe8", "#3a8fe8", "#3a9cff"]}, "legend": null}}},
{"data": {"name": "mt"}, "mark": {"type": "text", "font": "DejaVu Sans", "fontWeight": "bold", "fontSize": 11, "color": "#ffffff", "baseline": "middle", "align": "center"},
 "encoding": {"x": {"field": "x", "type": "quantitative", "scale": {"domain": [-0.654, 12.113], "nice": false, "zero": false}, "axis": null}, "y": {"field": "y", "type": "quantitative", "scale": {"domain": [-0.743, 9.457], "nice": false, "zero": false}, "axis": null}, "text": {"field": "t"}}},
{"data": {"values": [{}]}, "mark": {"type": "text", "font": "DejaVu Sans", "fontWeight": "bold", "fontSize": 8, "color": "#ffffff", "baseline": "middle", "align": "center"},
 "encoding": {"x": {"datum": 9.72, "type": "quantitative", "scale": {"domain": [-0.654, 12.113], "nice": false, "zero": false}, "axis": null}, "y": {"datum": -0.443, "type": "quantitative", "scale": {"domain": [-0.743, 9.457], "nice": false, "zero": false}, "axis": null}, "text": {"value": "T"}}},
{"data": {"values": [{}]}, "mark": {"type": "text", "font": "DejaVu Sans Mono", "fontSize": 10, "color": "#8c8c8c", "baseline": "middle", "align": "center"},
 "encoding": {"x": {"datum": 4.535, "type": "quantitative", "scale": {"domain": [-0.654, 12.113], "nice": false, "zero": false}, "axis": null}, "y": {"datum": 8.33, "type": "quantitative", "scale": {"domain": [-0.743, 9.457], "nice": false, "zero": false}, "axis": null}, "text": {"value": "[~~~~~~~~~"}}},
{"data": {"values": [{}]}, "mark": {"type": "text", "font": "DejaVu Sans Mono", "fontSize": 10, "color": "#8c8c8c", "baseline": "middle", "align": "center"},
 "encoding": {"x": {"datum": 7.49, "type": "quantitative", "scale": {"domain": [-0.654, 12.113], "nice": false, "zero": false}, "axis": null}, "y": {"datum": 8.33, "type": "quantitative", "scale": {"domain": [-0.743, 9.457], "nice": false, "zero": false}, "axis": null}, "text": {"value": "~~~~~~~~~~]"}}},
{"data": {"values": [{}]}, "mark": {"type": "rect", "fill": "#ffffff", "stroke": "#707070", "strokeWidth": 1, "cornerRadius": 3},
 "encoding": {"x": {"datum": 5.46, "type": "quantitative", "scale": {"domain": [-0.654, 12.113], "nice": false, "zero": false}, "axis": null}, "x2": {"datum": 6.48}, "y": {"datum": 8.18, "type": "quantitative", "scale": {"domain": [-0.743, 9.457], "nice": false, "zero": false}, "axis": null}, "y2": {"datum": 8.477}}},
{"data": {"values": [{}]}, "mark": {"type": "text", "font": "DejaVu Sans Mono", "fontSize": 10, "color": "#1c1cff", "baseline": "middle", "align": "center"},
 "encoding": {"x": {"datum": 5.97, "type": "quantitative", "scale": {"domain": [-0.654, 12.113], "nice": false, "zero": false}, "axis": null}, "y": {"datum": 8.33, "type": "quantitative", "scale": {"domain": [-0.743, 9.457], "nice": false, "zero": false}, "axis": null}, "text": {"value": "~~~~~"}}},
{"data": {"name": "hd"}, "mark": {"type": "text", "font": "DejaVu Sans Mono", "fontSize": 14, "baseline": "middle", "align": "center"},
 "encoding": {"x": {"field": "x", "type": "quantitative", "scale": {"domain": [-0.654, 12.113], "nice": false, "zero": false}, "axis": null}, "y": {"field": "y", "type": "quantitative", "scale": {"domain": [-0.743, 9.457], "nice": false, "zero": false}, "axis": null}, "text": {"field": "t"}, "color": {"field": "k", "type": "nominal", "scale": {"domain": ["red", "mag", "blue", "black", "lblue"], "range": ["#ff2626", "#ff30ff", "#1c1cff", "#000000", "#3a9cff"]}, "legend": null}}},
{"data": {"name": "fd"}, "mark": {"type": "text", "font": "DejaVu Sans Mono", "fontSize": 14, "baseline": "middle", "align": "center"},
 "encoding": {"x": {"field": "x", "type": "quantitative", "scale": {"domain": [-0.654, 12.113], "nice": false, "zero": false}, "axis": null}, "y": {"field": "y", "type": "quantitative", "scale": {"domain": [-0.743, 9.457], "nice": false, "zero": false}, "axis": null}, "text": {"field": "t"}, "color": {"field": "k", "type": "nominal", "scale": {"domain": ["red", "mag", "blue", "black", "lblue"], "range": ["#ff2626", "#ff30ff", "#1c1cff", "#000000", "#3a9cff"]}, "legend": null}}},
{"data": {"values": [{}]}, "mark": {"type": "text", "font": "Liberation Serif", "fontSize": 21, "align": "left", "baseline": "alphabetic", "color": "#000000"},
 "encoding": {"x": {"datum": -0.483, "type": "quantitative", "scale": {"domain": [-0.654, 12.113], "nice": false, "zero": false}, "axis": null}, "y": {"datum": 8.743, "type": "quantitative", "scale": {"domain": [-0.743, 9.457], "nice": false, "zero": false}, "axis": null}, "text": {"value": "d)"}}}
]}
]}
]
}
